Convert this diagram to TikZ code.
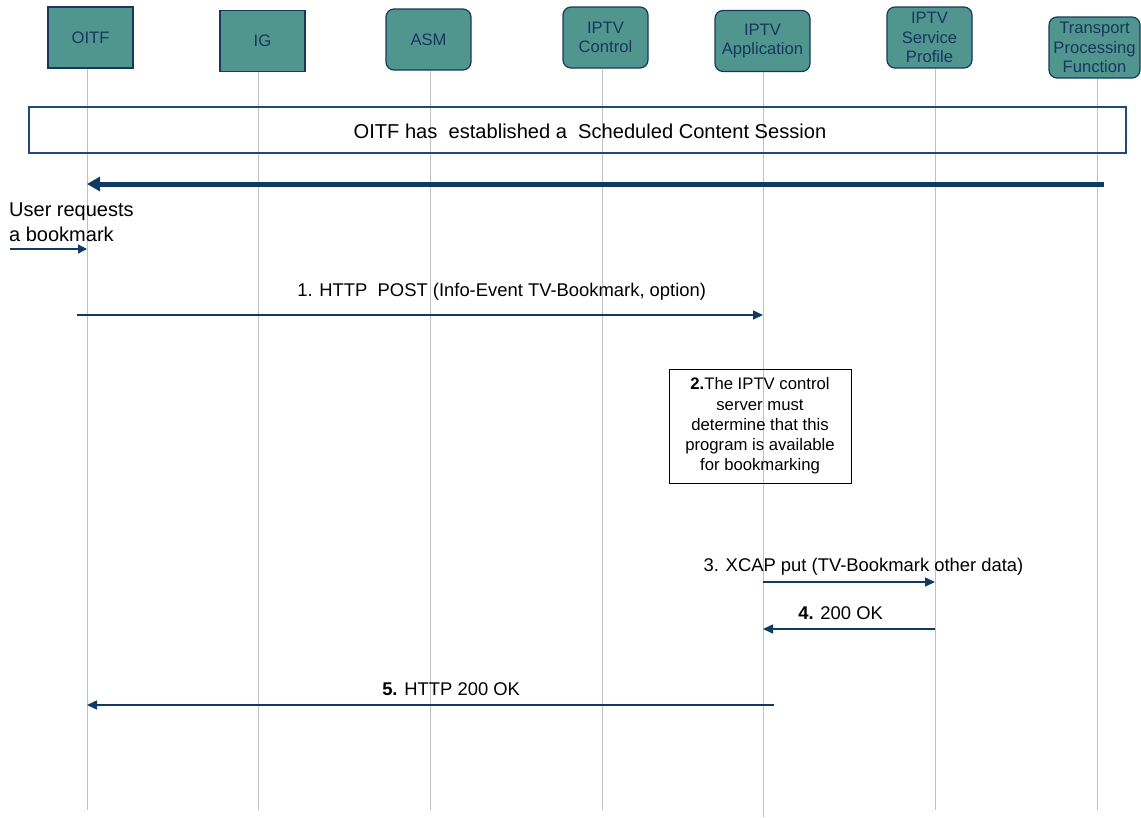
\documentclass[tikz,border=0pt]{standalone}
\usepackage{fontspec}
\setmainfont{Liberation Sans}
\usetikzlibrary{arrows.meta}

\definecolor{boxteal}{RGB}{80,150,143}
\definecolor{boxnavy}{RGB}{23,55,94}
\definecolor{msgnavy}{RGB}{16,58,98}
\definecolor{sessionblue}{RGB}{31,73,125}
\definecolor{lifegray}{RGB}{192,192,192}

\newcommand{\actorfont}{\fontsize{16.6}{19.5}\selectfont}
\newcommand{\msgfont}{\fontsize{18.4}{22}\selectfont}
\newcommand{\notefont}{\fontsize{16.7}{20.2}\selectfont}
\newcommand{\sessionfont}{\fontsize{20.1}{24}\selectfont}
\newcommand{\userfont}{\fontsize{20}{25}\selectfont}

\begin{document}
\begin{tikzpicture}[x=1pt,y=-1pt,>={Triangle[length=10pt,width=9pt]},
    actor/.style={draw=boxnavy,line width=1.2pt,fill=boxteal,text=boxnavy,font=\actorfont,
                  align=center,inner sep=1pt,minimum width=85pt,minimum height=61pt},
    server/.style={actor,rounded corners=8pt},
    lifeline/.style={draw=lifegray,line width=1pt},
    msg/.style={->,draw=msgnavy,line width=1.5pt},
    stream/.style={-{Triangle[length=13pt,width=14pt]},draw=msgnavy,line width=5pt},
    msglabel/.style={anchor=base,font=\msgfont,inner sep=0pt},
    note/.style={draw=black,line width=1pt,font=\notefont,align=center,
                 minimum width=182pt,minimum height=114pt,inner sep=2pt},
    session/.style={draw=sessionblue,line width=1.2pt,minimum width=1097pt,minimum height=46pt}]
    \useasboundingbox (0,0) rectangle (1141,817);

    % ends of the lifelines
    \coordinate (oitf-end)  at (87,810);
    \coordinate (ig-end)    at (258,810);
    \coordinate (asm-end)   at (430,810);
    \coordinate (ctrl-end)  at (602,810);
    \coordinate (app-end)   at (763,817);
    \coordinate (prof-end)  at (935,810);
    \coordinate (trans-end) at (1097,810);

    \node [actor]  (oitf)  at (90.5,37.5)   {OITF};
    \node [actor]  (ig)    at (262.5,41)    {IG};
    \node [server] (asm)   at (428.5,39.5)  {ASM};
    \node [server] (ctrl)  at (605.5,37.5)  {IPTV\\Control};
    \node [server,minimum width=95pt] (app) at (762.5,41) {IPTV\\Application};
    \node [server] (prof)  at (929.5,37.5)  {IPTV\\Service\\Profile};
    \node [server,minimum width=91pt] (trans) at (1094.5,47.5) {Transport\\Processing\\Function};

    \foreach \n in {oitf,ig,asm,ctrl,app,prof,trans}
        \draw [lifeline] (\n.south -| \n-end) -- (\n-end);

    \node [session] (session) at (577.5,130) {};
    \node [anchor=base,font=\sessionfont,inner sep=0pt] (sessiontext) at (590,138.3)
          {OITF has\ \ established a\ \ Scheduled Content Session};

    % free ends of the messages
    \coordinate (stream-from) at (1104,184);
    \coordinate (user-from)   at (10,249);
    \coordinate (m1-from)     at (77,315);
    \coordinate (m3)          at (0,582);
    \coordinate (m4)          at (0,629);
    \coordinate (m5-from)     at (774,705);

    \draw [stream] (stream-from) -- (oitf-end |- stream-from);

    \node [anchor=north west,align=left,font=\userfont,inner sep=0pt] (usertext) at (9,202.4)
          {User requests\\a bookmark};
    \draw [msg,line width=1.3pt,-{Triangle[length=9pt,width=9pt]}] (user-from) -- (oitf-end |- user-from);

    \node [note] (check) at (760,426)
          {\textbf{2.}The IPTV control\\server must\\determine that this\\program is available\\for bookmarking};

    \path (m1-from) edge [msg] node [msglabel,pos=0.619,yshift=19pt]
                {1. HTTP\ \ POST (Info-Event TV-Bookmark, option)} (app-end |- m1-from)
          (app-end |- m3) edge [msg] node [msglabel,pos=0.584,yshift=11pt]
                {3. XCAP put (TV-Bookmark other data)} (prof-end |- m3)
          (prof-end |- m4) edge [msg] node [msglabel,pos=0.549,yshift=10pt]
                {\textbf{4.} 200 OK} (app-end |- m4)
          (m5-from) edge [msg] node [msglabel,pos=0.470,yshift=10pt]
                {\textbf{5.} HTTP 200 OK} (oitf-end |- m5-from);
\end{tikzpicture}
\end{document}
